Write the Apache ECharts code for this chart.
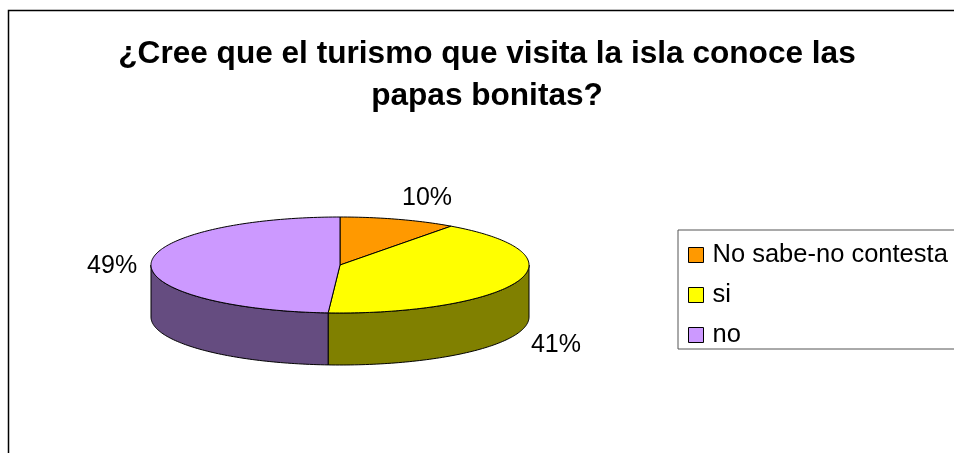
<!DOCTYPE html>
<html>
<head>
<meta charset="utf-8">
<script src="https://cdn.jsdelivr.net/npm/echarts@6/dist/echarts.min.js"></script>
<style>
html, body { margin: 0; padding: 0; background: #fff; }
#main { width: 954px; height: 453px; }
</style>
</head>
<body>
<div id="main"></div>
<script>
// datos de la encuesta
const categories = ['No sabe-no contesta', 'si', 'no'];
const values = [10, 41, 49];
const topColors = ['#FF9900', '#FFFF00', '#CC99FF'];
const sideColors = ['#804C00', '#808000', '#654C80'];

// geometria de la tarta 3D (elipse superior + altura del lateral)
const pie = { cx: 340, cy: 265, rx: 189, ry: 48, depth: 52 };
const FONT = '"Liberation Sans", Arial, sans-serif';

const total = values.reduce((a, b) => a + b, 0);
// angulos acumulados, en sentido horario desde arriba
let acc = 0;
const ranges = values.map(v => {
    const r = [acc / total * Math.PI * 2, (acc + v) / total * Math.PI * 2];
    acc += v;
    return r;
});

function pt(t, dy) {
    return [pie.cx + pie.rx * Math.sin(t), pie.cy - pie.ry * Math.cos(t) + (dy || 0)];
}
function arc(t1, t2, dy) {
    const n = Math.max(2, Math.ceil(Math.abs(t2 - t1) / 0.02));
    const pts = [];
    for (let k = 0; k <= n; k++) pts.push(pt(t1 + (t2 - t1) * k / n, dy));
    return pts;
}

function renderSlice(params, api) {
    const i = params.seriesIndex;
    const t1 = api.value(0), t2 = api.value(1);
    const children = [];
    // lateral visible (mitad delantera)
    const a = Math.max(t1, Math.PI / 2), b = Math.min(t2, Math.PI * 1.5);
    if (a < b) {
        children.push({
            type: 'polygon',
            shape: { points: arc(a, b, 0).concat(arc(b, a, pie.depth)) },
            style: { fill: sideColors[i], stroke: '#000', lineWidth: 1 }
        });
    }
    // cara superior
    children.push({
        type: 'polygon',
        shape: { points: [[pie.cx, pie.cy]].concat(arc(t1, t2, 0)) },
        style: { fill: topColors[i], stroke: '#000', lineWidth: 1 }
    });
    // etiqueta de porcentaje, fuera del borde
    const tm = (t1 + t2) / 2;
    const s = Math.sin(tm), c = Math.cos(tm);
    children.push({
        type: 'text',
        x: pie.cx + (pie.rx + 15) * s + (s >= 0 ? 24 : -24),
        y: pie.cy - (pie.ry + 14) * c - 12 * c + (c < 0 ? pie.depth : 0) + 3,
        style: {
            text: Math.round(values[i] / total * 100) + '%',
            fill: '#000',
            font: '25px ' + FONT,
            align: 'center',
            verticalAlign: 'middle'
        }
    });
    return { type: 'group', children: children };
}

const chart = echarts.init(document.getElementById('main'));
chart.setOption({
    animation: false,
    backgroundColor: '#fff',
    title: {
        text: '¿Cree que el turismo que visita la isla conoce las\npapas bonitas?',
        left: 482,
        top: 28,
        textAlign: 'center',
        textStyle: {
            fontFamily: FONT,
            fontWeight: 'bold',
            fontSize: 31.6,
            lineHeight: 42,
            color: '#000'
        }
    },
    legend: {
        orient: 'vertical',
        left: 678,
        top: 230,
        padding: [12, 30, 1, 10],
        itemGap: 14,
        itemWidth: 15,
        itemHeight: 15,
        icon: 'rect',
        borderColor: '#555',
        borderWidth: 1,
        data: categories,
        itemStyle: { borderColor: '#000', borderWidth: 1 },
        textStyle: {
            fontFamily: FONT,
            fontSize: 25.5,
            lineHeight: 25,
            color: '#000',
            padding: [0, 0, 0, 4]
        }
    },
    graphic: [{
        type: 'rect',
        shape: { x: 8.5, y: 10.5, width: 1000, height: 500 },
        style: { fill: 'none', stroke: '#000', lineWidth: 1.5 },
        silent: true
    }],
    series: categories.map((name, i) => ({
        name: name,
        type: 'custom',
        coordinateSystem: 'none',
        itemStyle: { color: topColors[i] },
        renderItem: renderSlice,
        data: [ranges[i]]
    }))
});
</script>
</body>
</html>
